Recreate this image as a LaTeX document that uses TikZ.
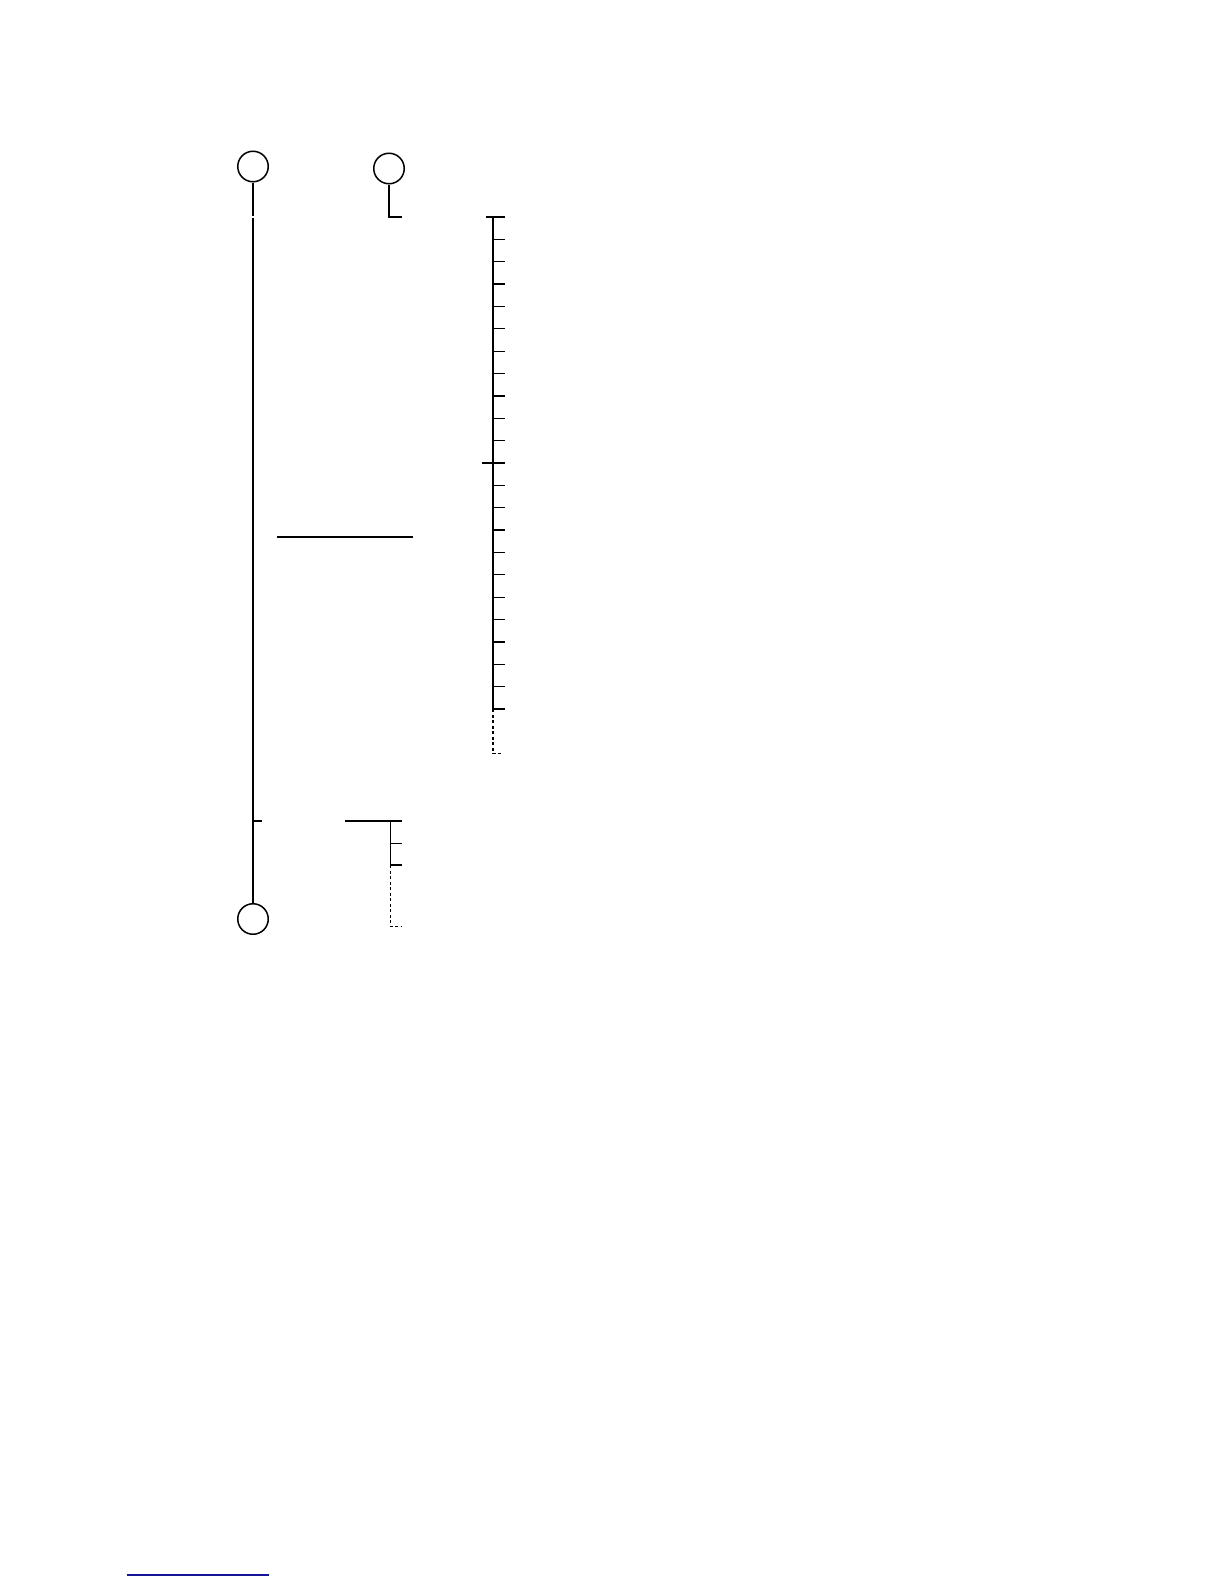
\documentclass[tikz,border=0pt]{standalone}
\definecolor{linkblue}{RGB}{20,20,150}
\begin{document}
\begin{tikzpicture}[x=1pt,y=-1pt,
  ln/.style={line width=1.3pt},
  dashln/.style={line width=1.1pt,dash pattern=on 3pt off 2.5pt},
  ring/.style={circle,draw,line width=1.5pt,minimum size=30.5pt,inner sep=0pt}]
\useasboundingbox[fill=white] (0,0) rectangle (1224,1584);
% circles
\node[ring] (A) at (253,166.5) {};
\node[ring] (B) at (389,168.5) {};
\node[ring] (C) at (253,919) {};
% main vertical with small gap
\coordinate (g1) at (253,216.3);
\coordinate (g2) at (253,217.6);
\draw[ln] (A.south) -- (g1);
\draw[ln] (g2) -- (C.north);
\coordinate (mt1) at (261.7,821);
\draw[ln] (253,821) -- (mt1);
% B connector
\coordinate (b1) at (401.7,217);
\draw[ln] (B.south) |- (b1);
% thick line
\coordinate (h1) at (277.3,536.7);
\coordinate (h2) at (412.7,536.7);
\draw[line width=2pt] (h1) -- (h2);
% right comb
\coordinate (ct) at (493,217);
\coordinate (cb) at (493,709);
\draw[ln] (ct) -- (cb);
\draw[ln] (486,217) -- (505,217);
\draw[ln] (482,463) -- (505,463);
\foreach \i in {1,...,10}{
  \draw[ln] (493,{217+22.36*\i}) -- (505,{217+22.36*\i});
  \draw[ln] (493,{463+22.36*\i}) -- (505,{463+22.36*\i});
}
\draw[ln] (cb) -- (505,709);
\coordinate (ce) at (503,753.3);
\draw[dashln] (cb) |- (ce);
% lower comb
\coordinate (l1) at (345,821);
\coordinate (l2) at (401.7,821);
\draw[ln] (l1) -- (l2);
\coordinate (lv) at (390.7,865);
\draw[ln] (390.7,821) -- (lv);
\draw[ln] (390.7,843.3) -- (401.7,843.3);
\draw[ln] (lv) -- (401.7,865);
\coordinate (le) at (400.7,926.7);
\draw[dashln] (lv) |- (le);
% footnote rule
\coordinate (f1) at (126.7,1575);
\coordinate (f2) at (269,1575);
\draw[linkblue,line width=1.2pt] (f1) -- (f2);
\end{tikzpicture}
\end{document}
